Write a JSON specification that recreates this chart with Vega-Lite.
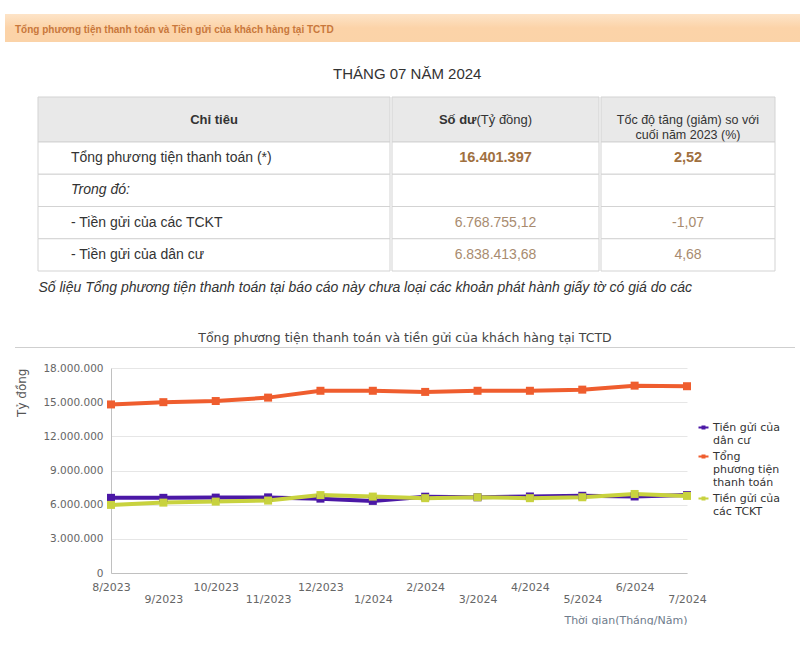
{
  "$schema": "https://vega.github.io/schema/vega-lite/v6.json",
  "padding": {"left": 5, "top": 14, "right": 0, "bottom": 0},
  "background": "white",
  "config": {
    "locale": {"number": {"decimal": ",", "thousands": ".", "grouping": [3], "currency": ["", ""]}},
    "view": {"stroke": null},
    "font": "Liberation Sans",
    "text": {"font": "Liberation Sans", "fontSize": 13, "color": "#333333"}
  },
  "datasets": {
    "bang": [
      {"row": 1, "kind": "total", "chi_tieu": "Tổng phương tiện thanh toán (*)", "so_du": "16.401.397", "toc_do": "2,52"},
      {"row": 2, "kind": "group", "chi_tieu": "Trong đó:", "so_du": "", "toc_do": ""},
      {"row": 3, "kind": "item", "chi_tieu": "- Tiền gửi của các TCKT", "so_du": "6.768.755,12", "toc_do": "-1,07"},
      {"row": 4, "kind": "item", "chi_tieu": "  - Tiền gửi của dân cư", "so_du": "6.838.413,68", "toc_do": "4,68"}
    ],
    "ghichu": [
      {"note": "Số liệu Tổng phương tiện thanh toán tại báo cáo này chưa loại các khoản phát hành giấy tờ có giá do các"}
    ],
    "chuoi": [
      {"month": "8/2023", "series": "Tiền gửi của dân cư", "value": 6600000},
      {"month": "9/2023", "series": "Tiền gửi của dân cư", "value": 6600000},
      {"month": "10/2023", "series": "Tiền gửi của dân cư", "value": 6620000},
      {"month": "11/2023", "series": "Tiền gửi của dân cư", "value": 6640000},
      {"month": "12/2023", "series": "Tiền gửi của dân cư", "value": 6530000},
      {"month": "1/2024", "series": "Tiền gửi của dân cư", "value": 6330000},
      {"month": "2/2024", "series": "Tiền gửi của dân cư", "value": 6700000},
      {"month": "3/2024", "series": "Tiền gửi của dân cư", "value": 6650000},
      {"month": "4/2024", "series": "Tiền gửi của dân cư", "value": 6720000},
      {"month": "5/2024", "series": "Tiền gửi của dân cư", "value": 6780000},
      {"month": "6/2024", "series": "Tiền gửi của dân cư", "value": 6720000},
      {"month": "7/2024", "series": "Tiền gửi của dân cư", "value": 6840000},
      {"month": "8/2023", "series": "Tổng phương tiện thanh toán", "value": 14800000},
      {"month": "9/2023", "series": "Tổng phương tiện thanh toán", "value": 15000000},
      {"month": "10/2023", "series": "Tổng phương tiện thanh toán", "value": 15100000},
      {"month": "11/2023", "series": "Tổng phương tiện thanh toán", "value": 15400000},
      {"month": "12/2023", "series": "Tổng phương tiện thanh toán", "value": 16000000},
      {"month": "1/2024", "series": "Tổng phương tiện thanh toán", "value": 16000000},
      {"month": "2/2024", "series": "Tổng phương tiện thanh toán", "value": 15900000},
      {"month": "3/2024", "series": "Tổng phương tiện thanh toán", "value": 16000000},
      {"month": "4/2024", "series": "Tổng phương tiện thanh toán", "value": 16000000},
      {"month": "5/2024", "series": "Tổng phương tiện thanh toán", "value": 16100000},
      {"month": "6/2024", "series": "Tổng phương tiện thanh toán", "value": 16450000},
      {"month": "7/2024", "series": "Tổng phương tiện thanh toán", "value": 16400000},
      {"month": "8/2023", "series": "Tiền gửi của các TCKT", "value": 5980000},
      {"month": "9/2023", "series": "Tiền gửi của các TCKT", "value": 6180000},
      {"month": "10/2023", "series": "Tiền gửi của các TCKT", "value": 6270000},
      {"month": "11/2023", "series": "Tiền gửi của các TCKT", "value": 6360000},
      {"month": "12/2023", "series": "Tiền gửi của các TCKT", "value": 6840000},
      {"month": "1/2024", "series": "Tiền gửi của các TCKT", "value": 6710000},
      {"month": "2/2024", "series": "Tiền gửi của các TCKT", "value": 6570000},
      {"month": "3/2024", "series": "Tiền gửi của các TCKT", "value": 6650000},
      {"month": "4/2024", "series": "Tiền gửi của các TCKT", "value": 6570000},
      {"month": "5/2024", "series": "Tiền gửi của các TCKT", "value": 6650000},
      {"month": "6/2024", "series": "Tiền gửi của các TCKT", "value": 6940000},
      {"month": "7/2024", "series": "Tiền gửi của các TCKT", "value": 6770000}
    ]
  },
  "spacing": 27,
  "vconcat": [
    {
      "spacing": 24,
      "vconcat": [
        {
          "width": 795,
          "height": 28,
          "title": {"text": "Tổng phương tiện thanh toán và Tiền gửi của khách hàng tại TCTD", "anchor": "start", "frame": "group", "offset": -21, "dx": 10, "font": "Liberation Sans", "fontSize": 10, "fontWeight": "bold", "color": "#c9783c"},
          "data": {"values": [{}]},
          "mark": {"type": "rect", "fill": {"gradient": "linear", "x1": 0, "y1": 0, "x2": 0, "y2": 1, "stops": [{"offset": 0, "color": "#fde4c8"}, {"offset": 0.5, "color": "#fcd3a8"}, {"offset": 1, "color": "#fbd3a8"}]}},
          "encoding": {}
        },
        {
          "spacing": 31,
          "hconcat": [
            {"width": 1, "height": 1, "data": {"values": [{}]}, "mark": {"type": "rect", "opacity": 0}, "encoding": {}},
            {
              "title": {"text": "THÁNG 07 NĂM 2024", "anchor": "middle", "frame": "bounds", "font": "Liberation Sans", "fontSize": 15, "fontWeight": "normal", "color": "#333333", "offset": 15},
              "spacing": 0,
              "vconcat": [
                {
                  "spacing": 0,
                  "hconcat": [
                    {
                      "bounds": "flush",
                      "spacing": 0,
                      "vconcat": [
                        {
                          "width": 352, "height": 45,
                          "data": {"values": [{"cot": "Chỉ tiêu"}]},
                          "layer": [
                            {"mark": {"type": "rect", "fill": "#e9e9e9", "stroke": "#d3d3d3"}, "encoding": {}},
                            {"mark": {"type": "text", "fontWeight": "bold", "fontSize": 13}, "encoding": {"text": {"field": "cot"}}}
                          ]
                        },
                        {
                          "width": 352, "height": 129,
                          "data": {"name": "bang"},
                          "encoding": {"y": {"field": "row", "type": "ordinal", "axis": null, "scale": {"paddingInner": 0, "paddingOuter": 0}}},
                          "layer": [
                            {"mark": {"type": "rect", "fill": "white", "stroke": "#d3d3d3"}},
                            {"transform": [{"filter": "datum.kind != 'group'"}], "mark": {"type": "text", "align": "left", "dx": -143, "fontSize": 14}, "encoding": {"text": {"field": "chi_tieu"}}},
                            {"transform": [{"filter": "datum.kind == 'group'"}], "mark": {"type": "text", "align": "left", "dx": -143, "fontSize": 14, "fontStyle": "italic"}, "encoding": {"text": {"field": "chi_tieu"}}}
                          ]
                        }
                      ]
                    },
                    {
                      "bounds": "flush",
                      "spacing": 0,
                      "vconcat": [
                        {
                          "width": 207, "height": 45,
                          "data": {"values": [{"a": "Số dư", "b": "(Tỷ đồng)"}]},
                          "layer": [
                            {"mark": {"type": "rect", "fill": "#e9e9e9", "stroke": "#d3d3d3"}, "encoding": {}},
                            {"mark": {"type": "text", "align": "right", "dx": -19, "fontWeight": "bold", "fontSize": 13}, "encoding": {"text": {"field": "a"}}},
                            {"mark": {"type": "text", "align": "left", "dx": -19, "fontSize": 13}, "encoding": {"text": {"field": "b"}}}
                          ]
                        },
                        {
                          "width": 207, "height": 129,
                          "data": {"name": "bang"},
                          "encoding": {"y": {"field": "row", "type": "ordinal", "axis": null, "scale": {"paddingInner": 0, "paddingOuter": 0}}},
                          "layer": [
                            {"mark": {"type": "rect", "fill": "white", "stroke": "#d3d3d3"}},
                            {"transform": [{"filter": "datum.kind == 'total'"}], "mark": {"type": "text", "fontWeight": "bold", "fontSize": 14.5, "color": "#a0703f"}, "encoding": {"text": {"field": "so_du"}}},
                            {"transform": [{"filter": "datum.kind == 'item'"}], "mark": {"type": "text", "fontSize": 14, "color": "#a88b6f"}, "encoding": {"text": {"field": "so_du"}}}
                          ]
                        }
                      ]
                    },
                    {
                      "bounds": "flush",
                      "spacing": 0,
                      "vconcat": [
                        {
                          "width": 174, "height": 45,
                          "data": {"values": [{"c": "Tốc độ tăng (giảm) so với\ncuối năm 2023 (%)"}]},
                          "layer": [
                            {"mark": {"type": "rect", "fill": "#e9e9e9", "stroke": "#d3d3d3"}, "encoding": {}},
                            {"mark": {"type": "text", "fontSize": 12.5, "lineBreak": "\n", "lineHeight": 15}, "encoding": {"text": {"field": "c"}}}
                          ]
                        },
                        {
                          "width": 174, "height": 129,
                          "data": {"name": "bang"},
                          "encoding": {"y": {"field": "row", "type": "ordinal", "axis": null, "scale": {"paddingInner": 0, "paddingOuter": 0}}},
                          "layer": [
                            {"mark": {"type": "rect", "fill": "white", "stroke": "#d3d3d3"}},
                            {"transform": [{"filter": "datum.kind == 'total'"}], "mark": {"type": "text", "fontWeight": "bold", "fontSize": 14.5, "color": "#a0703f"}, "encoding": {"text": {"field": "toc_do"}}},
                            {"transform": [{"filter": "datum.kind == 'item'"}], "mark": {"type": "text", "fontSize": 14, "color": "#a88b6f"}, "encoding": {"text": {"field": "toc_do"}}}
                          ]
                        }
                      ]
                    }
                  ]
                },
                {
                  "width": 739, "height": 32,
                  "data": {"name": "ghichu"},
                  "mark": {"type": "text", "align": "left", "dx": -369, "fontSize": 14, "fontStyle": "italic", "color": "#333333"},
                  "encoding": {"text": {"field": "note"}}
                }
              ]
            }
          ]
        }
      ]
    },
    {
      "spacing": 15,
      "vconcat": [
        {
          "spacing": 9,
          "hconcat": [
            {"width": 1, "height": 1, "data": {"values": [{}]}, "mark": {"type": "rect", "opacity": 0}, "encoding": {}},
            {
              "width": 780, "height": 1,
              "title": {"text": "Tổng phương tiện thanh toán và tiền gửi của khách hàng tại TCTD", "anchor": "middle", "frame": "group", "font": "DejaVu Sans", "fontSize": 12.5, "fontWeight": "normal", "color": "#444444", "offset": 3},
              "data": {"values": [{}]},
              "mark": {"type": "rect", "fill": "#cfcfcf"},
              "encoding": {}
            }
          ]
        },
        {
          "spacing": 9,
          "hconcat": [
            {"width": 1, "height": 1, "data": {"values": [{}]}, "mark": {"type": "rect", "opacity": 0}, "encoding": {}},
            {
              "width": 576, "height": 205,
              "data": {"name": "chuoi"},
              "encoding": {
                "x": {
                  "field": "month", "type": "ordinal",
                  "scale": {"type": "point", "padding": 0, "domain": ["8/2023", "9/2023", "10/2023", "11/2023", "12/2023", "1/2024", "2/2024", "3/2024", "4/2024", "5/2024", "6/2024", "7/2024"]},
                  "axis": {
                    "title": "Thời gian(Tháng/Năm)", "titleAnchor": "end", "titleFont": "DejaVu Sans", "titleFontSize": 11, "titleFontWeight": "normal", "titleColor": "#6e7b8b", "titlePadding": 10,
                    "labelAngle": 0, "labelOverlap": false, "labelExpr": "parseInt(split(datum.label, '/')[0]) % 2 == 1 ? ['', datum.label] : datum.label",
                    "labelFont": "DejaVu Sans", "labelFontSize": 11, "labelColor": "#666666", "labelPadding": 8, "labelLineHeight": 12,
                    "ticks": false, "domainColor": "#c0c0c0", "grid": false
                  }
                },
                "y": {
                  "field": "value", "type": "quantitative",
                  "scale": {"domain": [0, 18000000]},
                  "axis": {
                    "title": "Tỷ đồng", "titleAnchor": "end", "titleFont": "DejaVu Sans", "titleFontSize": 12, "titleFontWeight": "normal", "titleColor": "#555555", "titlePadding": 14,
                    "values": [0, 3000000, 6000000, 9000000, 12000000, 15000000, 18000000], "format": ",d",
                    "labelFont": "DejaVu Sans", "labelFontSize": 10.5, "labelColor": "#666666", "labelPadding": 8,
                    "ticks": false, "domain": true, "domainColor": "#c0c0c0", "gridColor": "#e6e6e6"
                  }
                },
                "color": {
                  "field": "series", "type": "nominal",
                  "scale": {"domain": ["Tiền gửi của dân cư", "Tổng phương tiện thanh toán", "Tiền gửi của các TCKT"], "range": ["#4b18a6", "#ef5d2e", "#c8d23e"]},
                  "legend": {
                    "title": null, "orient": "none", "legendX": 693, "legendY": 408, "padding": 0, "rowPadding": 4,
                    "symbolType": "M-1,-0.2H-0.4V-0.4H0.4V-0.2H1V0.2H0.4V0.4H-0.4V0.2H-1Z", "symbolSize": 100, "symbolStrokeWidth": 0,
                    "labelFont": "DejaVu Sans", "labelFontSize": 11, "labelColor": "#333333", "labelOffset": 4,
                    "labelExpr": "datum.label == 'Tổng phương tiện thanh toán' ? ['Tổng', 'phương tiện', 'thanh toán'] : datum.label == 'Tiền gửi của dân cư' ? ['Tiền gửi của', 'dân cư'] : ['Tiền gửi của', 'các TCKT']"
                  }
                }
              },
              "layer": [
                {"mark": {"type": "line", "strokeWidth": 4}},
                {"mark": {"type": "point", "shape": "square", "filled": true, "size": 64, "opacity": 1}}
              ]
            }
          ]
        }
      ]
    }
  ]
}
